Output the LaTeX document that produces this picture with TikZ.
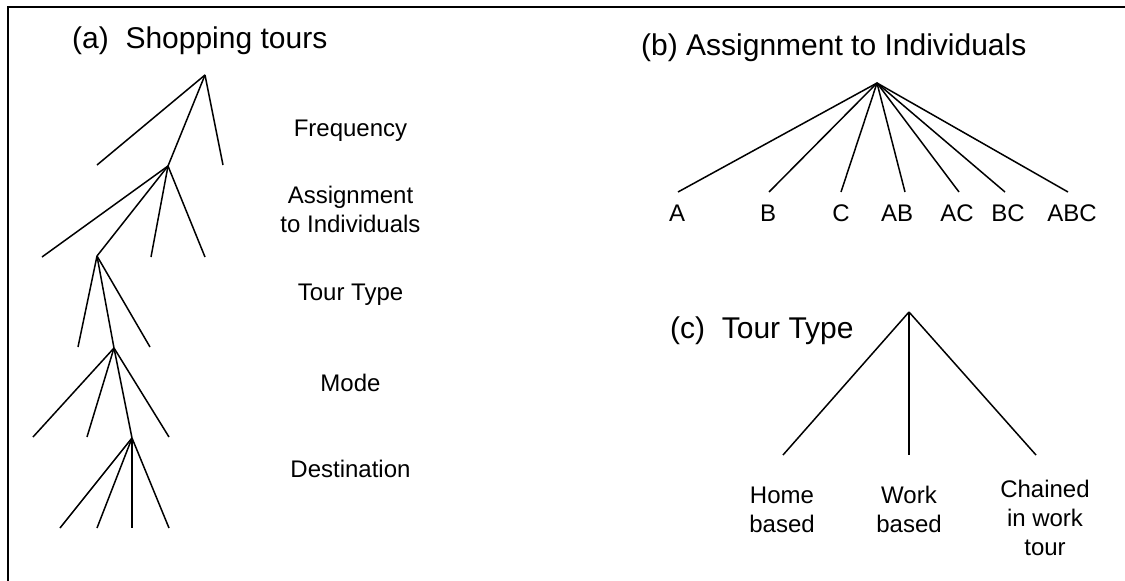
\documentclass[tikz,border=0pt]{standalone}
\usepackage{fontspec}
\setmainfont{Liberation Sans}
\begin{document}
\begin{tikzpicture}[x=1pt,y=-1pt,
  branch/.style={line width=1.5pt},
  frame/.style={line width=2pt},
  title/.style={font=\fontsize{30}{36}\selectfont, anchor=base west, inner sep=0pt},
  lbl/.style={font=\fontsize{24}{29}\selectfont, anchor=base, inner sep=0pt, align=center}]
\useasboundingbox (0,0) rectangle (1125,581);

% frame: left and top edges
\coordinate (fbl) at (7.5,581);
\coordinate (ftl) at (7.5,7);
\coordinate (ftr) at (1125,7);
\draw[frame] (fbl) -- (ftl) -- (ftr);

% ---------- (a) Shopping tours ----------
\node[title] (ta) at (72,48) {(a)\ \ Shopping tours};

\coordinate (a1) at (205,75);
\coordinate (a1l) at (97,165);
\coordinate (a1r) at (223,165);
\coordinate (a2) at (168,166);
\coordinate (a2l) at (42,257);
\coordinate (a2m) at (151,257);
\coordinate (a2r) at (205,257);
\coordinate (a3) at (97,256);
\coordinate (a3l) at (78,347);
\coordinate (a3r) at (150,347);
\coordinate (a4) at (114,348);
\coordinate (a4l) at (33,437);
\coordinate (a4m) at (87,437);
\coordinate (a4r) at (169,437);
\coordinate (a5) at (132,438);
\coordinate (a5a) at (60,528);
\coordinate (a5b) at (97,528);
\coordinate (a5c) at (132,528);
\coordinate (a5d) at (169,528);

\draw[branch] (a1) -- (a1l);
\draw[branch] (a1) -- (a2);
\draw[branch] (a1) -- (a1r);
\draw[branch] (a2) -- (a2l);
\draw[branch] (a2) -- (a3);
\draw[branch] (a2) -- (a2m);
\draw[branch] (a2) -- (a2r);
\draw[branch] (a3) -- (a3l);
\draw[branch] (a3) -- (a4);
\draw[branch] (a3) -- (a3r);
\draw[branch] (a4) -- (a4l);
\draw[branch] (a4) -- (a4m);
\draw[branch] (a4) -- (a5);
\draw[branch] (a4) -- (a4r);
\draw[branch] (a5) -- (a5a);
\draw[branch] (a5) -- (a5b);
\draw[branch] (a5) -- (a5c);
\draw[branch] (a5) -- (a5d);

% level labels (base anchor sits on the last line)
\node[lbl] (lfreq) at (350.5,136) {Frequency};
\node[lbl] (lassign) at (350.5,232) {Assignment\\to Individuals};
\node[lbl] (ltype) at (350.5,300) {Tour Type};
\node[lbl] (lmode) at (350.5,391) {Mode};
\node[lbl] (ldest) at (350.5,477) {Destination};

% ---------- (b) Assignment to Individuals ----------
\node[title] (tb) at (641,55) {(b) Assignment to Individuals};

\coordinate (b0) at (877,83);
\foreach \n/\x in {A/678,B/769,C/841,AB/905,AC/959,BC/1005,ABC/1068}{
  \coordinate (b\n) at (\x,192);
  \draw[branch] (b0) -- (b\n);
}
\foreach \n/\x in {A/677,B/768,C/841,AB/897,AC/957,BC/1008,ABC/1072}{
  \node[lbl] (lb\n) at (\x,221) {\n};
}

% ---------- (c) Tour Type ----------
\node[title] (tc) at (670,338) {(c)\ \ Tour Type};

\coordinate (c0) at (909,312);
\coordinate (chome) at (783,455);
\coordinate (cwork) at (909,455);
\coordinate (cchain) at (1036,455);
\draw[branch] (c0) -- (chome);
\draw[branch] (c0) -- (cwork);
\draw[branch] (c0) -- (cchain);

\node[lbl] (lhome) at (782,532) {Home\\based};
\node[lbl] (lwork) at (909,532) {Work\\based};
\node[lbl] (lchain) at (1045,555) {Chained\\in work\\tour};
\end{tikzpicture}
\end{document}
